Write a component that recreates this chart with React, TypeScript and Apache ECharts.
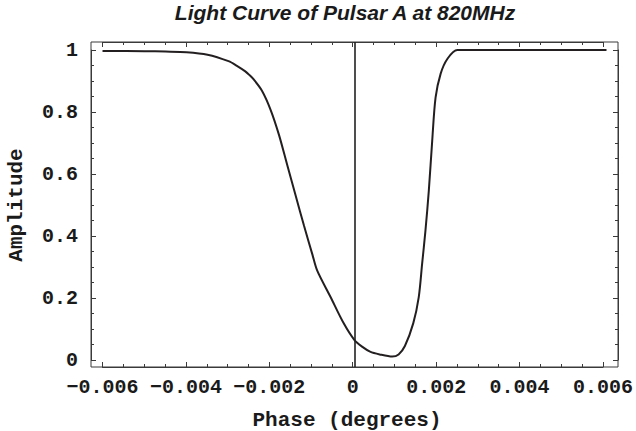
import React, { useEffect, useRef } from "react";
import * as echarts from "echarts";

// Light curve readings (phase in degrees, normalised amplitude)
const phase = [
  -0.006, -0.005, -0.0045, -0.004, -0.0035, -0.003, -0.0028, -0.0026, -0.0025, -0.0024,
  -0.0022, -0.002, -0.0018, -0.0016, -0.0014, -0.0012, -0.001, -0.00089, -0.00057, -0.00026,
  0, 0.00018, 0.00037, 0.0006, 0.0009, 0.00105, 0.0012, 0.0014, 0.00153, 0.00161,
  0.00169, 0.00177, 0.00185, 0.00193, 0.00205, 0.00221, 0.00245, 0.006,
];
const amplitude = [
  0.997, 0.996, 0.995, 0.993, 0.985, 0.964, 0.949, 0.931, 0.919, 0.905,
  0.868, 0.808, 0.727, 0.628, 0.53, 0.432, 0.339, 0.289, 0.203, 0.119,
  0.064, 0.043, 0.027, 0.018, 0.011, 0.018, 0.045, 0.119, 0.203, 0.31,
  0.418, 0.547, 0.707, 0.846, 0.923, 0.971, 1.0, 1.0,
];

// Tick ranges / steps
const xTickRange = [-0.006, 0.006];
const xTickStep = 0.002;
const yTickRange = [0, 1];
const yTickStep = 0.2;

// Plot (frame) range
const X_MIN = -0.006274;
const X_MAX = 0.006274;
const Y_MIN = -0.0226;
const Y_MAX = 1.0258;

const TITLE = "Light Curve of Pulsar A at 820MHz";
const X_NAME = "Phase (degrees)";
const Y_NAME = "Amplitude";

const FRAME = "#3a3a3a";
const TEXT = "#1a1a1a";
const monoLabel = {
  fontFamily: "Liberation Mono",
  fontWeight: "bold" as const,
  fontSize: 20,
  color: TEXT,
};

function fmtX(v: number) {
  if (Math.abs(v) < 1e-12) return "0";
  return (v < 0 ? "\u2212" : "") + Math.abs(v).toFixed(3);
}
function fmtY(v: number) {
  if (Math.abs(v) < 1e-12) return "0";
  if (Math.abs(v - 1) < 1e-9) return "1";
  return v.toFixed(1);
}

const tickCommon = {
  axisLine: { show: true, onZero: false, lineStyle: { color: FRAME, width: 1 } },
  axisTick: { show: true, inside: true, length: 5, lineStyle: { color: FRAME, width: 1 } },
  minorTick: { show: true, splitNumber: 4, length: 3, lineStyle: { color: FRAME, width: 1 } },
  splitLine: { show: false },
  minorSplitLine: { show: false },
};

export default function App() {
  const ref = useRef<HTMLDivElement>(null);
  useEffect(() => {
    const chart = echarts.init(ref.current!, null, { renderer: "svg" });
    const data = phase.map((p, i) => [p, amplitude[i]]);
    chart.setOption({
      animation: false,
      backgroundColor: "#ffffff",
      grid: [
        // data grid + frame
        { left: 91, top: 42, width: 527, height: 325, show: true, borderColor: FRAME, borderWidth: 1, backgroundColor: "transparent" },
        // grid for x ticks (spans -0.006..0.006)
        { left: 102.5, top: 42, width: 504, height: 325 },
        // grid for y ticks (spans 0..1)
        { left: 91, top: 50, width: 527, height: 310 },
      ],
      xAxis: [
        { type: "value", gridIndex: 0, min: X_MIN, max: X_MAX, show: false },
        {
          type: "value", gridIndex: 1, position: "bottom",
          min: xTickRange[0], max: xTickRange[1], interval: xTickStep,
          ...tickCommon,
          axisLabel: { show: true, margin: 10, formatter: fmtX, ...monoLabel },
        },
        {
          type: "value", gridIndex: 1, position: "top",
          min: xTickRange[0], max: xTickRange[1], interval: xTickStep,
          ...tickCommon,
          axisLabel: { show: false },
        },
        { type: "value", gridIndex: 2, min: X_MIN, max: X_MAX, show: false },
      ],
      yAxis: [
        { type: "value", gridIndex: 0, min: Y_MIN, max: Y_MAX, show: false },
        { type: "value", gridIndex: 1, min: Y_MIN, max: Y_MAX, show: false },
        {
          type: "value", gridIndex: 2, position: "left",
          min: yTickRange[0], max: yTickRange[1], interval: yTickStep,
          ...tickCommon,
          axisLabel: { show: true, margin: 13, formatter: fmtY, ...monoLabel },
        },
        {
          type: "value", gridIndex: 2, position: "right",
          min: yTickRange[0], max: yTickRange[1], interval: yTickStep,
          ...tickCommon,
          axisLabel: { show: false },
        },
      ],
      series: [
        {
          type: "line",
          xAxisIndex: 0,
          yAxisIndex: 0,
          data,
          showSymbol: false,
          symbol: "none",
          smooth: 0.3,
          lineStyle: { color: "#231f20", width: 2 },
          markLine: {
            silent: true,
            symbol: "none",
            label: { show: false },
            lineStyle: { color: "#222222", width: 1.6, type: "solid" },
            data: [{ xAxis: 0 }],
          },
        },
      ],
      graphic: [
        {
          type: "text", x: 345, y: 12,
          style: { text: TITLE, fontFamily: "Liberation Sans", fontWeight: "bold", fontStyle: "italic", fontSize: 21, fill: TEXT, align: "center", verticalAlign: "middle" },
        },
        {
          type: "text", x: 347, y: 420,
          style: { text: X_NAME, fontFamily: "Liberation Mono", fontWeight: "bold", fontSize: 21, fill: TEXT, align: "center", verticalAlign: "middle" },
        },
        {
          type: "text", x: 16, y: 205, rotation: Math.PI / 2,
          style: { text: Y_NAME, fontFamily: "Liberation Mono", fontWeight: "bold", fontSize: 21, fill: TEXT, align: "center", verticalAlign: "middle" },
        },
      ],
    });
    return () => chart.dispose();
  }, []);
  return (
    <div ref={ref} style={{ position: "fixed", left: 0, top: 0, width: 636, height: 431 }} />
  );
}
